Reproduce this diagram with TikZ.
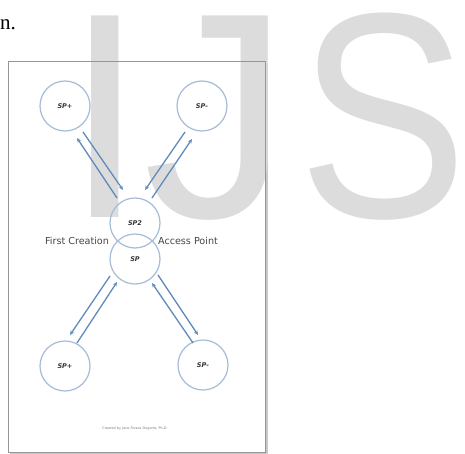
\documentclass[tikz,border=0pt]{standalone}
\usepackage{fontspec}
\setmainfont{Liberation Serif}
\newfontfamily\lblfont{DejaVu Sans}
\newfontfamily\wmfont{Liberation Sans}
\usetikzlibrary{arrows.meta,calc}
\definecolor{wmgray}{RGB}{220,220,220}
\definecolor{ringblue}{RGB}{165,188,215}
\definecolor{arrblue}{RGB}{98,138,188}
\definecolor{txtgray}{RGB}{70,70,70}
\definecolor{framegray}{RGB}{150,150,150}
\definecolor{shadowgray}{RGB}{200,200,200}
\tikzset{
  wm/.style={inner sep=0pt, anchor=base west, text=wmgray, font=\wmfont\fontsize{293}{293}\selectfont},
  ring/.style={circle, draw=ringblue, line width=1.2pt, minimum size=50pt, inner sep=0pt,
               font=\lblfont\bfseries\itshape\fontsize{6.5}{7}\selectfont, text=txtgray!80!black},
  arr/.style={draw=arrblue, line width=1.3pt, -{Stealth[length=4.5pt,width=4pt]}},
  side/.style={font=\lblfont\fontsize{9.6}{11}\selectfont, text=txtgray, inner sep=0pt},
  credit/.style={font=\lblfont\fontsize{3.4}{4}\selectfont, text=txtgray!70, inner sep=0pt}
}
\begin{document}
\begin{tikzpicture}[x=1pt,y=-1pt]
\useasboundingbox (0,0) rectangle (465,454);
\fill[white] (0,0) rectangle (465,454);
% top text fragment
\node[inner sep=0pt, anchor=base west, font=\fontsize{21}{24}\selectfont] (ntext) at (0,30) {n.};
% page frame with shadow
\fill[shadowgray] (10,63) rectangle (268,455);
\fill[white] (8,61) rectangle (265,452);
% watermark
\node[wm] (wI) at (64.5,218) {I};
\node[wm] (wJ) at (143,218) {J};
\node[wm, xscale=0.866] (wS) at (298,218) {S};
\draw[framegray, line width=0.9pt] (8,61) rectangle (265,452);
% circles
\node[ring] (tl) at (65,106) {SP+};
\node[ring] (tr) at (202,106) {SP-};
\node[ring] (sp2) at (135,223) {SP2};
\node[ring] (sp) at (135,259) {SP};
\node[ring] (bl) at (65,366) {SP+};
\node[ring] (br) at (203,365) {SP-};
% side labels
\node[side] (fc) at (77,241) {First Creation};
\node[side] (ap) at (188,241) {Access Point};
% arrows
\draw[arr] ($(tl)+(18,26)$) -- ($(sp2)+(-12,-33)$);
\draw[arr] ($(sp2)+(-18,-25)$) -- ($(tl)+(12,32)$);
\draw[arr] ($(tr)+(-17,26)$) -- ($(sp2)+(10,-33)$);
\draw[arr] ($(sp2)+(17,-25)$) -- ($(tr)+(-10,33)$);
\draw[arr] ($(sp)+(-25,17)$) -- ($(bl)+(5,-31)$);
\draw[arr] ($(bl)+(12,-23)$) -- ($(sp)+(-18,23)$);
\draw[arr] ($(br)+(-10,-22)$) -- ($(sp)+(17,24)$);
\draw[arr] ($(sp)+(23,16)$) -- ($(br)+(-5,-30)$);
% credit
\node[credit] (cr) at (135,429) {Created by Jane Rivera Dugarte, Ph.D.};
\end{tikzpicture}
\end{document}
